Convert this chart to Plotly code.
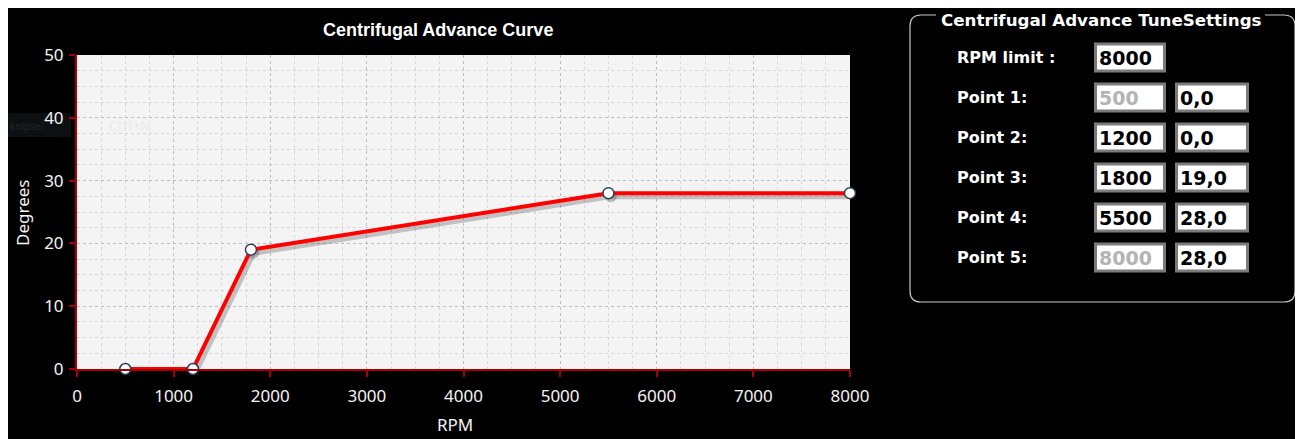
import plotly.graph_objects as go

# ---------------- data ----------------
rpm = [500, 1200, 1800, 5500, 8000]
degrees = [0, 0, 19, 28, 28]
rpm_limit = 8000
point_labels = ["Point 1:", "Point 2:", "Point 3:", "Point 4:", "Point 5:"]
rpm_disabled = [True, False, False, False, True]
x_ticks = [0, 1000, 2000, 3000, 4000, 5000, 6000, 7000, 8000]
y_ticks = [0, 10, 20, 30, 40, 50]

# ---------------- page geometry ----------------
OX, OY = 8, 8          # body margin of the page
W, H = 1295, 431


def px(x):
    return (x - OX) / W


def py(y):
    return 1 - (y - OY) / H


PL, PR, PT, PB = 77, 850, 55, 369   # plot area in page pixels

fig = go.Figure()

# soft shadow of the curve (offset a few pixels down/right)
sdx = 2.5 * (x_ticks[-1] - x_ticks[0]) / (PR - PL)
sdy = 3.0 * (y_ticks[-1] - y_ticks[0]) / (PB - PT)
fig.add_trace(go.Scatter(
    x=[v + sdx for v in rpm], y=[v - sdy for v in degrees],
    mode="lines+markers",
    line=dict(color="rgba(60,60,60,0.28)", width=6),
    marker=dict(size=12, color="rgba(60,60,60,0.3)", line=dict(width=0)),
    cliponaxis=False, hoverinfo="skip", showlegend=False,
))
fig.add_trace(go.Scatter(
    x=rpm, y=degrees, mode="lines+markers",
    line=dict(color="#ff0000", width=4),
    marker=dict(size=11, color="white", line=dict(color="#2e3d5e", width=1.5)),
    cliponaxis=False, showlegend=False,
))

axis_red = "#a80000"
tickfont = dict(family="Noto Sans, Liberation Sans, sans-serif", size=17, color="#f4f4f4")

common = dict(
    showgrid=True, gridcolor="#bdbdbd", griddash="dot", gridwidth=1,
    showline=True, linecolor=axis_red, linewidth=2,
    ticks="outside", ticklen=6, tickwidth=2, tickcolor=axis_red,
    tickfont=tickfont, zeroline=False, fixedrange=True, automargin=False,
)
fig.update_xaxes(
    domain=[px(PL), px(PR)], range=[x_ticks[0], x_ticks[-1]],
    tickvals=x_ticks, ticktext=[str(v) for v in x_ticks],
    minor=dict(dtick=250, showgrid=True, gridcolor="#d6d6d6", griddash="dot", gridwidth=1),
    ticklabelstandoff=5, **common,
)
fig.update_yaxes(
    domain=[py(PB), py(PT)], range=[y_ticks[0], y_ticks[-1]],
    tickvals=y_ticks, ticktext=[str(v) for v in y_ticks],
    minor=dict(dtick=2.5, showgrid=True, gridcolor="#d6d6d6", griddash="dot", gridwidth=1),
    ticklabelstandoff=2, **common,
)

annotations = [
    dict(text="<b>Centrifugal Advance Curve</b>", x=px(438), y=py(30),
         font=dict(family="Liberation Sans, Arial, sans-serif", size=18, color="white")),
    dict(text="Degrees", x=px(22), y=py(213), textangle=-90,
         font=dict(family="Noto Sans, sans-serif", size=17, color="#f4f4f4")),
    dict(text="RPM", x=px(455), y=py(424),
         font=dict(family="Noto Sans, sans-serif", size=17, color="#f4f4f4")),
    dict(text="<b>Centrifugal Advance TuneSettings</b>", x=px(1101), y=py(20),
         font=dict(family="DejaVu Sans, Verdana, sans-serif", size=16.7, color="white")),
    # faint screen-capture tooltip remnant
    dict(text="knipsel", x=px(8), y=py(126), xanchor="left",
         font=dict(family="Noto Sans, sans-serif", size=10, color="#22272c")),
    dict(text="Ctrl+N", x=px(107), y=py(126), xanchor="left",
         font=dict(family="Noto Sans, sans-serif", size=14, color="#e8eaec")),
]

shapes = [dict(type="rect", xref="paper", yref="paper", layer="below",
               x0=px(OX), x1=px(71), y0=py(137), y1=py(113),
               line=dict(width=0), fillcolor="#0c1013")]


def P(x, y):
    return f"{px(x):.5f},{py(y):.5f}"


# group box with a gap for its title
X0, X1, Y0, Y1, R = 910, 1295, 15, 302, 11
path = (f"M {P(936, Y0)} L {P(X0 + R, Y0)} Q {P(X0, Y0)} {P(X0, Y0 + R)} "
        f"L {P(X0, Y1 - R)} Q {P(X0, Y1)} {P(X0 + R, Y1)} "
        f"L {P(X1 - R, Y1)} Q {P(X1, Y1)} {P(X1, Y1 - R)} "
        f"L {P(X1, Y0 + R)} Q {P(X1, Y0)} {P(X1 - R, Y0)} L {P(1265, Y0)}")
shapes.append(dict(type="path", path=path, xref="paper", yref="paper",
                   line=dict(color="#c8c8c8", width=1.2)))

label_font = dict(family="DejaVu Sans, Verdana, sans-serif", size=16, color="white")
box_font = dict(family="DejaVu Sans, Verdana, sans-serif", size=19, color="black")
grey_font = dict(family="DejaVu Sans, Verdana, sans-serif", size=19, color="#b4b4b4")

C1L, C1R, C2L, C2R = 1094, 1166, 1175, 1249


def box(xl, xr, yc, text, font):
    shapes.append(dict(type="rect", xref="paper", yref="paper",
                       x0=px(xl + 1.5), x1=px(xr - 1.5), y0=py(yc - 13.5), y1=py(yc + 13.5),
                       line=dict(color="#7a7a7a", width=3), fillcolor="white"))
    annotations.append(dict(text=f"<b>{text}</b>", x=px(xl + 3), y=py(yc + 0.5),
                            xanchor="left", font=font))


row0 = 57.5
annotations.append(dict(text="<b>RPM limit :</b>", x=px(955), y=py(row0),
                        xanchor="left", font=label_font))
box(C1L, C1R, row0, str(rpm_limit), box_font)

for i, (lab, r, d, dis) in enumerate(zip(point_labels, rpm, degrees, rpm_disabled)):
    yc = 97.5 + 40 * i
    annotations.append(dict(text=f"<b>{lab}</b>", x=px(955), y=py(yc),
                            xanchor="left", font=label_font))
    box(C1L, C1R, yc, str(r), grey_font if dis else box_font)
    box(C2L, C2R, yc, f"{d:.1f}".replace(".", ","), box_font)

for a in annotations:
    a.setdefault("xref", "paper")
    a.setdefault("yref", "paper")
    a.setdefault("showarrow", False)
    a.setdefault("xanchor", "center")
    a.setdefault("yanchor", "middle")

fig.update_layout(
    template="none",
    width=W, height=H, margin=dict(l=0, r=0, t=0, b=0, autoexpand=False),
    paper_bgcolor="black", plot_bgcolor="#f4f4f4",
    annotations=annotations, shapes=shapes, showlegend=False,
)

fig.write_html("out.html")
